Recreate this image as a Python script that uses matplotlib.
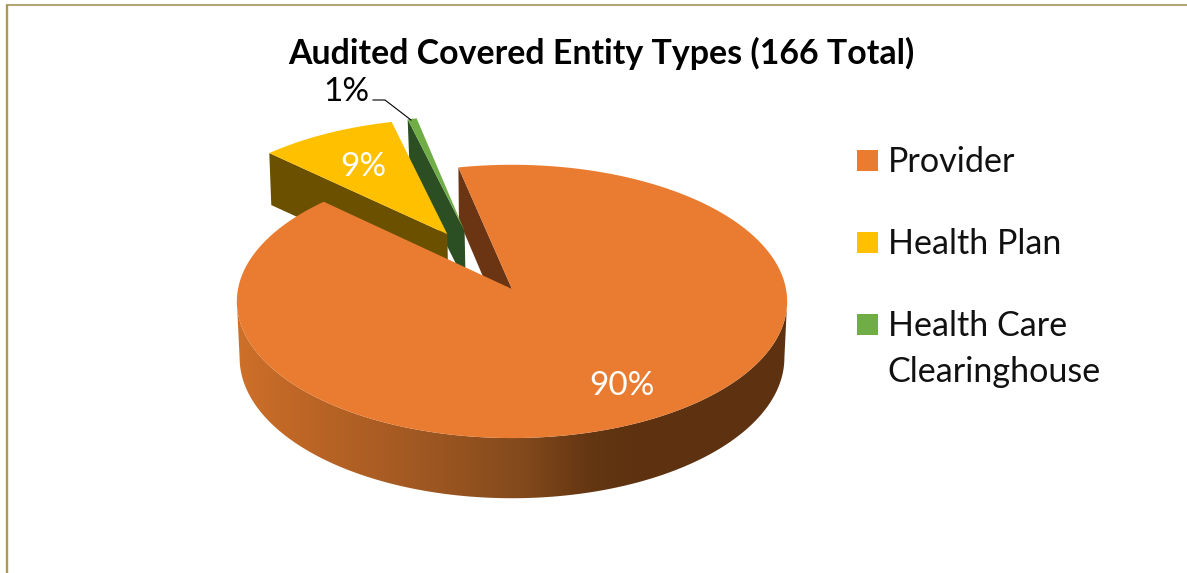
#!/usr/bin/env python3
import numpy as np
import matplotlib
matplotlib.use('Agg')
import matplotlib.pyplot as plt
from matplotlib.patches import Polygon, Rectangle

title = 'Audited Covered Entity Types (166 Total)'
categories = ['Provider', 'Health Plan', 'Health Care\nClearinghouse']
shares = [90.4, 9.0, 0.6]

top_colors = ['#E97C30', '#FFC000', '#70AD47']
side_colors = ['#6B3514', '#6B5000', '#2B4E22']
exploded = [(0, 0), (-0.245, -0.42), (-0.18, -0.445)]
start_deg = -12.3

# pie centre and perspective, in pixels
CX, CY = 512, 289
RX, RY, PERSP = 274, 135.5, 0.0909


def project(u, v):
    w = 1 - PERSP * v
    return CX + RX * u / w, CY + RY * v / w


def extrude(x, y):
    return CX + (x - CX) * 0.99, CY + (y - CY) * 1.028 + 56


def wedge(a0, a1, off=(0, 0), n=200):
    t = np.radians(np.linspace(a0, a1, n))
    u = np.r_[off[0], off[0] + np.sin(t)]
    v = np.r_[off[1], off[1] - np.cos(t)]
    return project(u, v)


fig = plt.figure(figsize=(11.87, 5.73), dpi=100)
ax = fig.add_axes([0, 0, 1, 1])
ax.set_xlim(0, 1187)
ax.set_ylim(573, 0)
ax.axis('off')

# frame round the picture
ax.plot([7, 7], [5, 573], color='#AD9A55', lw=1.7, solid_capstyle='butt')
ax.plot([6, 1187], [5, 5], color='#A08A45', lw=1.1, solid_capstyle='butt')

ends = start_deg + np.cumsum(shares) * 3.6
starts = np.r_[start_deg, ends[:-1]]

# cut face of the big slice, behind everything
x, y = wedge(starts[0], starts[0] + 0.01, n=2)
bx, by = extrude(x, y)
ax.add_patch(Polygon(np.c_[np.r_[x[:2], bx[1::-1]], np.r_[y[:2], by[1::-1]]],
                     fc=side_colors[0], ec='none', zorder=2))

# small exploded slices: wall then top
for i, z in ((2, 3), (1, 5)):
    x, y = wedge(starts[i], ends[i], exploded[i])
    ex, ey, px, py = x[0], y[0], x[1], y[1]
    wall = [(ex, ey), (px, py), (px + 2, py + 52), (ex + 1, ey + 52)]
    ax.add_patch(Polygon(wall, fc=side_colors[i], ec='none', zorder=z))
    ax.add_patch(Polygon(np.c_[x, y], fc=top_colors[i], ec='none', zorder=z + 1))

# front wall of the big slice with its horizontal shading
# the rim runs between the widest points of the projected ellipse
t_side = np.degrees(np.arccos(-PERSP))
t = np.radians(np.linspace(t_side, 360 - t_side, 300))
fx, fy = project(np.sin(t), -np.cos(t))
bx, by = extrude(fx, fy)
rim = Polygon(np.c_[np.r_[fx, bx[::-1]], np.r_[fy, by[::-1]]], fc='none', ec='none', zorder=7)
ax.add_patch(rim)
stops_x = [236, 300, 420, 520, 590, 640, 790]
stops_rgb = np.array([[205, 112, 42], [190, 102, 38], [160, 88, 34],
                      [132, 74, 28], [100, 54, 18], [94, 50, 16], [94, 50, 16]]) / 255
xs = np.linspace(236, 790, 554)
grad = np.stack([np.interp(xs, stops_x, stops_rgb[:, k]) for k in range(3)], axis=-1)[None, :, :]
im = ax.imshow(grad, extent=(236, 790, 520, 270), aspect='auto', zorder=7, interpolation='bilinear')
im.set_clip_path(rim)
ax.set_xlim(0, 1187)
ax.set_ylim(573, 0)

# top of the big slice
x, y = wedge(starts[0], ends[0], exploded[0], n=600)
ax.add_patch(Polygon(np.c_[x, y], fc=top_colors[0], ec='none', zorder=8))

# labels
ff = 'Lato'
ax.text(601, 53, title, fontsize=24.4, fontweight='bold', family=ff, ha='center', va='center', color='#000000', zorder=10)
ax.text(622, 386, f'{shares[0]:.0f}%', fontsize=24, family=ff, ha='center', va='center', color='white', zorder=10)
ax.text(363, 167, f'{shares[1]:.0f}%', fontsize=24, family=ff, ha='center', va='center', color='white', zorder=10)
ax.text(346, 92, f'{shares[2]:.0f}%', fontsize=24, family=ff, ha='center', va='center', color='black', zorder=10)
ax.plot([373, 385, 411], [100, 100, 120], color='black', lw=0.8, zorder=10)

# legend
leg_y = [160.5, 242.5, 324.5]
for name, col, yy in zip(categories, top_colors, leg_y):
    ax.add_patch(Rectangle((857, yy - 10.5), 21, 21, fc=col, ec='none', zorder=10))
    ax.text(887.5, yy - 14.5, name, fontsize=24.6, family=ff, ha='left', va='top',
            color='#111111', linespacing=1.55, zorder=10)

fig.savefig('out.png', dpi=100)
